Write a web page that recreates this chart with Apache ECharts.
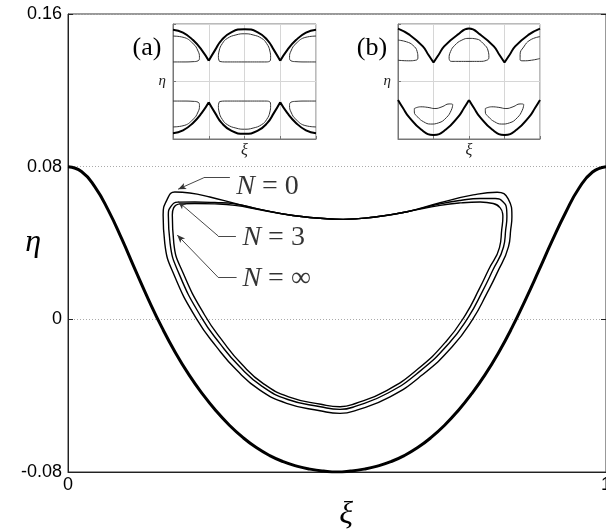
<!DOCTYPE html>
<html>
<head>
<meta charset="utf-8">
<script src="https://cdn.jsdelivr.net/npm/echarts@6/dist/echarts.min.js"></script>
<style>
  html, body { margin: 0; padding: 0; background: #fff; }
  #chart { width: 606px; height: 530px; }
</style>
</head>
<body>
<div id="chart"></div>
<script>
// ---- main panel: separatrix (thick) ----
const sepXi  = [0, 0.025, 0.05, 0.075, 0.10, 0.125, 0.15, 0.175, 0.20, 0.225, 0.25, 0.275, 0.30, 0.325, 0.35, 0.375, 0.40, 0.425, 0.45, 0.475, 0.50,
                0.525, 0.55, 0.575, 0.60, 0.625, 0.65, 0.675, 0.70, 0.725, 0.75, 0.775, 0.80, 0.825, 0.85, 0.875, 0.90, 0.925, 0.95, 0.975, 1.00];
const sepEta = [0.0800, 0.0775, 0.0694, 0.0571, 0.0421, 0.0259, 0.0101, -0.0045, -0.0176, -0.0291, -0.0391, -0.0479, -0.0555, -0.0619, -0.0672, -0.0714, -0.0746, -0.0769, -0.0785, -0.0795, -0.0800,
                -0.0795, -0.0785, -0.0769, -0.0746, -0.0714, -0.0672, -0.0619, -0.0555, -0.0479, -0.0391, -0.0291, -0.0176, -0.0045, 0.0101, 0.0255, 0.0412, 0.0560, 0.0688, 0.0772, 0.0800];

// ---- closed orbits for N = 0, N = 3, N = infinity (traced clockwise from the top) ----
const loop0Xi  = [0.4814, 0.5112, 0.5670, 0.6303, 0.6917, 0.7531, 0.7977, 0.8182, 0.8251, 0.8228, 0.8188, 0.7972, 0.7786, 0.7521, 0.7140, 0.6582, 0.5986, 0.5367, 0.5056,
                  0.4684, 0.4064, 0.3567, 0.3134, 0.2761, 0.2395, 0.1986, 0.1799, 0.1768, 0.1837, 0.1986, 0.2265, 0.2637, 0.3102, 0.3567, 0.4181, 0.4814];
const loop0Eta = [0.0527, 0.0524, 0.0535, 0.0564, 0.0611, 0.0652, 0.0666, 0.0631, 0.0538, 0.0468, 0.0381, 0.0241, 0.0136, 0.0000, -0.0144, -0.0292, -0.0406, -0.0476, -0.0493,
                  -0.0479, -0.0440, -0.0371, -0.0266, -0.0144, 0.0000, 0.0223, 0.0398, 0.0547, 0.0625, 0.0667, 0.0662, 0.0641, 0.0607, 0.0576, 0.0544, 0.0527];

const loop3Xi  = [0.4814, 0.5112, 0.5670, 0.6303, 0.6917, 0.7289, 0.7661, 0.7940, 0.8089, 0.8154, 0.8158, 0.8135, 0.8095, 0.7886, 0.7706, 0.7445, 0.7075, 0.6532, 0.5949, 0.5352, 0.5056,
                  0.4693, 0.4086, 0.3608, 0.3193, 0.2832, 0.2473, 0.2073, 0.1898, 0.1865, 0.1907, 0.2041, 0.2358, 0.2730, 0.3102, 0.3567, 0.4181, 0.4814];
const loop3Eta = [0.0527, 0.0524, 0.0535, 0.0564, 0.0605, 0.0623, 0.0633, 0.0633, 0.0615, 0.0573, 0.0538, 0.0468, 0.0379, 0.0252, 0.0148, 0.0013, -0.0128, -0.0274, -0.0386, -0.0455, -0.0472,
                  -0.0458, -0.0420, -0.0351, -0.0249, -0.0130, 0.0013, 0.0233, 0.0398, 0.0547, 0.0589, 0.0614, 0.0615, 0.0612, 0.0605, 0.0576, 0.0544, 0.0527];

const loopInfXi  = [0.4814, 0.5112, 0.5670, 0.6303, 0.6917, 0.7289, 0.7661, 0.7903, 0.8033, 0.8080, 0.8083, 0.8061, 0.8020, 0.7817, 0.7642, 0.7388, 0.7028, 0.6496, 0.5923, 0.5342, 0.5056,
                    0.4700, 0.4101, 0.3636, 0.3236, 0.2886, 0.2536, 0.2144, 0.1967, 0.1939, 0.1963, 0.2088, 0.2358, 0.2730, 0.3102, 0.3567, 0.4181, 0.4814];
const loopInfEta = [0.0527, 0.0524, 0.0535, 0.0564, 0.0597, 0.0610, 0.0615, 0.0607, 0.0584, 0.0552, 0.0538, 0.0468, 0.0376, 0.0260, 0.0158, 0.0024, -0.0116, -0.0262, -0.0373, -0.0441, -0.0458,
                    -0.0445, -0.0406, -0.0338, -0.0237, -0.0118, 0.0024, 0.0240, 0.0398, 0.0547, 0.0584, 0.0605, 0.0607, 0.0605, 0.0597, 0.0574, 0.0544, 0.0527];

// ---- annotation labels and their leader lines (data coordinates) ----
const labelTexts = ['{i|N} = 0', '{i|N} = 3', '{i|N} = \u221E'];
const labelXi    = [0.312, 0.3233, 0.3233];
const labelEta   = [0.0695, 0.0426, 0.0211];
const leaderStartXi  = [0.2525, 0.2791, 0.2791];
const leaderEndXi    = [0.3009, 0.3121, 0.3134];
const leaderEta      = [0.0742, 0.0437, 0.0220];
const arrowTipXi     = [0.2047, 0.2047, 0.2030];
const arrowTipEta    = [0.0682, 0.0617, 0.0442];

// ---- main axes ----
const xTicks = [0, 1];
const yTicks = [-0.08, 0, 0.08, 0.16];

// ---- inset (a) ----
const aUpperU = [0, 0.14, 0.28, 0.40, 0.50, null, 0.50, 0.59, 0.68, 0.82, 1.00, 1.18, 1.32, 1.41, 1.50, null, 1.50, 1.60, 1.72, 1.86, 2.00];
const aUpperV = [0.90, 0.85, 0.72, 0.55, 0.36, null, 0.36, 0.55, 0.72, 0.86, 0.91, 0.86, 0.72, 0.55, 0.36, null, 0.36, 0.55, 0.72, 0.85, 0.90];
const aLowerU = [0, 0.14, 0.28, 0.40, 0.50, null, 0.50, 0.59, 0.68, 0.82, 1.00, 1.18, 1.32, 1.41, 1.50, null, 1.50, 1.60, 1.72, 1.86, 2.00];
const aLowerV = [-0.90, -0.85, -0.72, -0.55, -0.36, null, -0.36, -0.55, -0.72, -0.86, -0.91, -0.86, -0.72, -0.55, -0.36, null, -0.36, -0.55, -0.72, -0.85, -0.90];
const aIslandUpperU = [0, 0.14, 0.28, 0.35, 0.37, 0.35, 0.28, 0.14, 0, null,
                       0.65, 0.635, 0.645, 0.69, 0.76, 0.88, 1.00, 1.12, 1.24, 1.31, 1.355, 1.365, 1.35, 1.28, 1.00, 0.72, 0.65, null,
                       2, 1.86, 1.72, 1.65, 1.63, 1.65, 1.72, 1.86, 2];
const aIslandUpperV = [0.79, 0.77, 0.66, 0.53, 0.42, 0.36, 0.345, 0.34, 0.34, null,
                       0.35, 0.42, 0.53, 0.66, 0.75, 0.81, 0.83, 0.81, 0.75, 0.66, 0.53, 0.42, 0.35, 0.34, 0.34, 0.34, 0.35, null,
                       0.79, 0.77, 0.66, 0.53, 0.42, 0.36, 0.345, 0.34, 0.34];
const aIslandLowerU = [0, 0.14, 0.28, 0.35, 0.37, 0.35, 0.28, 0.14, 0, null,
                       0.65, 0.635, 0.645, 0.69, 0.76, 0.88, 1.00, 1.12, 1.24, 1.31, 1.355, 1.365, 1.35, 1.28, 1.00, 0.72, 0.65, null,
                       2, 1.86, 1.72, 1.65, 1.63, 1.65, 1.72, 1.86, 2];
const aIslandLowerV = [-0.79, -0.77, -0.66, -0.53, -0.42, -0.36, -0.345, -0.34, -0.34, null,
                       -0.35, -0.42, -0.53, -0.66, -0.75, -0.81, -0.83, -0.81, -0.75, -0.66, -0.53, -0.42, -0.35, -0.34, -0.34, -0.34, -0.35, null,
                       -0.79, -0.77, -0.66, -0.53, -0.42, -0.36, -0.345, -0.34, -0.34];

// ---- inset (b) ----
const bUpperU = [0, 0.165, 0.35, 0.43, 0.50, null, 0.50, 0.57, 0.65, 0.835, 1.00, 1.165, 1.35, 1.43, 1.50, null, 1.50, 1.57, 1.65, 1.835, 2.00];
const bUpperV = [0.92, 0.81, 0.61, 0.46, 0.33, null, 0.33, 0.46, 0.61, 0.81, 0.92, 0.81, 0.61, 0.46, 0.33, null, 0.33, 0.46, 0.61, 0.81, 0.92];
const bLowerU = [0, 0.07, 0.15, 0.33, 0.50, 0.67, 0.85, 0.93, 1.00, null, 1.00, 1.07, 1.15, 1.33, 1.50, 1.67, 1.85, 1.93, 2.00];
const bLowerV = [-0.32, -0.46, -0.61, -0.84, -0.93, -0.84, -0.61, -0.46, -0.32, null, -0.32, -0.46, -0.61, -0.84, -0.93, -0.84, -0.61, -0.46, -0.32];
const bIslandUpperU = [0, 0.12, 0.21, 0.27, 0.28, 0.25, 0.15, 0, null,
                       0.74, 0.72, 0.74, 0.80, 0.90, 1.00, 1.10, 1.20, 1.27, 1.28, 1.25, 1.15, 1.00, 0.85, 0.74, null,
                       2, 1.86, 1.77, 1.72, 1.72, 1.76, 1.88, 2];
const bIslandUpperV = [0.72, 0.69, 0.63, 0.52, 0.41, 0.37, 0.36, 0.37, null,
                       0.35, 0.40, 0.52, 0.63, 0.72, 0.75, 0.74, 0.66, 0.53, 0.42, 0.37, 0.35, 0.35, 0.35, 0.35, null,
                       0.78, 0.72, 0.60, 0.47, 0.38, 0.36, 0.37, 0.40];
const bIslandLowerU = [0.23, 0.32, 0.42, 0.52, 0.62, 0.72, 0.77, 0.75, 0.68, 0.57, 0.46, 0.36, 0.28, 0.23, 0.23, null,
                       1.23, 1.32, 1.42, 1.52, 1.62, 1.72, 1.77, 1.75, 1.68, 1.57, 1.46, 1.36, 1.28, 1.23, 1.23];
const bIslandLowerV = [-0.47, -0.44, -0.45, -0.47, -0.44, -0.39, -0.40, -0.50, -0.63, -0.72, -0.74, -0.70, -0.62, -0.53, -0.47, null,
                       -0.47, -0.44, -0.45, -0.47, -0.44, -0.39, -0.40, -0.50, -0.63, -0.72, -0.74, -0.70, -0.62, -0.53, -0.47];

// pair x/y lists into points; a null entry breaks the line
function pts(xs, ys) {
  return xs.map((x, i) => (x === null ? ['-', '-'] : [x, ys[i]]));
}

const serif = '"Liberation Serif", "Times New Roman", serif';
const sans = '"Liberation Sans", Arial, sans-serif';

function curve(name, xs, ys, width, grid, color, smooth) {
  return {
    name, type: 'line', xAxisIndex: grid.x, yAxisIndex: grid.y,
    data: pts(xs, ys), smooth: smooth == null ? 0.5 : smooth, symbol: 'none', connectNulls: false,
    lineStyle: { color: color || '#000', width }, silent: true, z: 3
  };
}

const mainAx = { x: 0, y: 0 };
const insetA = { x: 1, y: 2 };
const insetB = { x: 2, y: 3 };

function insetX(gridIndex) {
  return {
    type: 'value', gridIndex, min: 0, max: 2, interval: 0.5,
    axisLine: { show: true, onZero: false, lineStyle: { color: '#777', width: 1 } },
    axisTick: { show: true, inside: true, length: 3, lineStyle: { color: '#777' } },
    axisLabel: { show: false },
    splitLine: { show: true, lineStyle: { color: '#d6d6d6', width: 1 } },
    name: '\u03BE', nameLocation: 'middle', nameGap: 4, nameMoveOverlap: false,
    nameTextStyle: { fontFamily: serif, fontStyle: 'italic', fontSize: 16, color: '#222', verticalAlign: 'top' }
  };
}
function insetY(gridIndex) {
  return {
    type: 'value', gridIndex, min: -1, max: 1, interval: 1,
    axisLine: { show: true, onZero: false, lineStyle: { color: '#777', width: 1 } },
    axisTick: { show: true, inside: true, length: 3, lineStyle: { color: '#777' } },
    axisLabel: { show: false },
    splitLine: { show: true, lineStyle: { color: '#d6d6d6', width: 1 } },
    name: '\u03B7', nameLocation: 'middle', nameGap: 7, nameRotate: 0, nameMoveOverlap: false,
    nameTextStyle: { fontFamily: serif, fontStyle: 'italic', fontSize: 15, color: '#222', verticalAlign: 'middle' }
  };
}

const labelData = labelTexts.map((t, i) => ({
  value: [labelXi[i], labelEta[i]],
  label: { formatter: t }
}));

const leaderLines = [];
for (let i = 0; i < labelTexts.length; i++) {
  leaderLines.push([
    { coord: [leaderEndXi[i], leaderEta[i]], symbol: 'none' },
    { coord: [leaderStartXi[i], leaderEta[i]], symbol: 'none' }
  ]);
  leaderLines.push([
    { coord: [leaderStartXi[i], leaderEta[i]], symbol: 'none' },
    { coord: [arrowTipXi[i], arrowTipEta[i]], symbol: 'arrow', symbolSize: [5, 8] }
  ]);
}

const option = {
  animation: false,
  backgroundColor: '#fff',
  grid: [
    { left: 68, top: 14, right: 0, bottom: 58, show: true, borderColor: '#333', borderWidth: 1, backgroundColor: '#fff', outerBoundsMode: 'none', containLabel: false },
    { left: 173, top: 24, width: 143, height: 115, show: true, borderColor: '#777', borderWidth: 1, backgroundColor: '#fff', outerBoundsMode: 'none', containLabel: false },
    { left: 398, top: 24, width: 142, height: 115, show: true, borderColor: '#777', borderWidth: 1, backgroundColor: '#fff', outerBoundsMode: 'none', containLabel: false }
  ],
  xAxis: [
    {
      type: 'value', gridIndex: 0, min: xTicks[0], max: xTicks[xTicks.length - 1], interval: 1,
      axisLine: { show: true, onZero: false, lineStyle: { color: '#222', width: 1 } },
      axisTick: { show: false },
      axisLabel: { fontFamily: sans, fontSize: 18, color: '#000', margin: 4, showMaxLabel: true, showMinLabel: true },
      splitLine: { show: false },
      name: '\u03BE', nameLocation: 'middle', nameGap: 22,
      nameTextStyle: { fontFamily: serif, fontStyle: 'italic', fontSize: 32, color: '#000', verticalAlign: 'top', padding: [0, 0, 0, 18] }
    },
    insetX(1),
    insetX(2)
  ],
  yAxis: [
    {
      type: 'value', gridIndex: 0, min: yTicks[0], max: yTicks[yTicks.length - 1], interval: 0.08,
      axisLine: { show: true, onZero: false, lineStyle: { color: '#222', width: 1 } },
      axisTick: { show: true, inside: true, length: 5, lineStyle: { color: '#222' } },
      axisLabel: {
        fontFamily: sans, fontSize: 18, color: '#000', margin: 6,
        formatter: v => (Math.abs(v) < 1e-9 ? '0' : v.toFixed(2))
      },
      splitLine: { show: true, lineStyle: { color: '#aaa', width: 1, type: [1, 2] } },
      name: '\u03B7', nameLocation: 'middle', nameGap: 27, nameRotate: 0, nameMoveOverlap: false,
      nameTextStyle: { fontFamily: serif, fontStyle: 'italic', fontSize: 32, color: '#000', verticalAlign: 'middle' }
    },
    {
      type: 'value', gridIndex: 0, position: 'right', min: yTicks[0], max: yTicks[yTicks.length - 1], interval: 0.08,
      axisLine: { show: false, onZero: false },
      axisTick: { show: true, inside: true, length: 5, lineStyle: { color: '#222' } },
      axisLabel: { show: false },
      splitLine: { show: false }
    },
    insetY(1),
    insetY(2)
  ],
  graphic: [
    { type: 'text', x: 147, y: 48, z: 10, style: { text: '(a)', font: '26px ' + serif, fill: '#000', align: 'center', verticalAlign: 'middle' } },
    { type: 'text', x: 372, y: 48, z: 10, style: { text: '(b)', font: '26px ' + serif, fill: '#000', align: 'center', verticalAlign: 'middle' } }
  ],
  series: [
    curve('separatrix', sepXi, sepEta, 3, mainAx),
    curve('N = 0', loop0Xi, loop0Eta, 1.4, mainAx),
    curve('N = 3', loop3Xi, loop3Eta, 1.4, mainAx),
    curve('N = inf', loopInfXi, loopInfEta, 1.4, mainAx),
    {
      name: 'labels', type: 'scatter', xAxisIndex: 0, yAxisIndex: 0,
      data: labelData, symbolSize: 1, itemStyle: { color: 'rgba(0,0,0,0)' }, silent: true, z: 4,
      label: {
        show: true, position: 'right', distance: 0,
        fontFamily: serif, fontSize: 28, color: '#000',
        rich: { i: { fontFamily: serif, fontStyle: 'italic', fontSize: 28, color: '#000' } }
      },
      markLine: {
        silent: true, animation: false, symbol: ['none', 'none'],
        label: { show: false },
        lineStyle: { color: '#333', width: 0.9, type: 'solid' },
        emphasis: { disabled: true },
        data: leaderLines
      }
    },
    curve('a upper', aUpperU, aUpperV, 2, insetA),
    curve('a lower', aLowerU, aLowerV, 2, insetA),
    curve('a islands up', aIslandUpperU, aIslandUpperV, 1, insetA, '#333'),
    curve('a islands down', aIslandLowerU, aIslandLowerV, 1, insetA, '#333'),
    curve('b upper', bUpperU, bUpperV, 2, insetB),
    curve('b lower', bLowerU, bLowerV, 2, insetB),
    curve('b islands up', bIslandUpperU, bIslandUpperV, 1, insetB, '#333'),
    curve('b islands down', bIslandLowerU, bIslandLowerV, 1, insetB, '#333')
  ]
};

const chart = echarts.init(document.getElementById('chart'), null, { renderer: 'canvas' });
chart.setOption(option);
</script>
</body>
</html>
